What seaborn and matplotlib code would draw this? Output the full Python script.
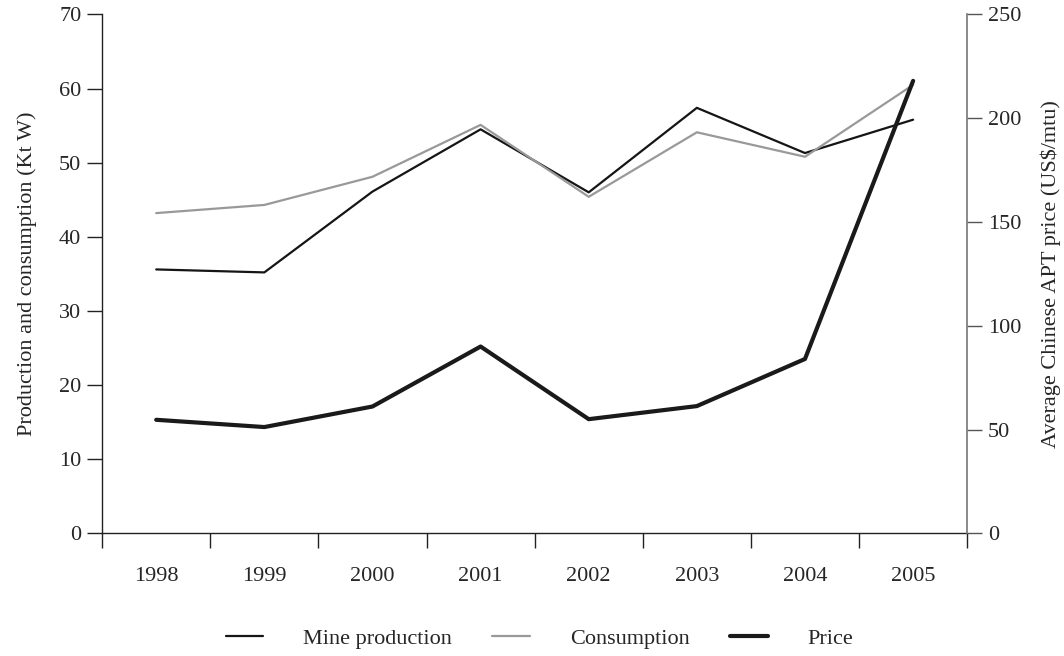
import numpy as np
import pandas as pd
import matplotlib.pyplot as plt
import seaborn as sns

years = ['1998', '1999', '2000', '2001', '2002', '2003', '2004', '2005']
mine_production = [35.6, 35.2, 46.1, 54.5, 46.0, 57.4, 51.3, 55.8]
consumption = [43.2, 44.3, 48.1, 55.1, 45.4, 54.1, 50.8, 60.5]
price = [54.7, 51.2, 61.1, 90.0, 55.0, 61.3, 84.0, 218.0]

df = pd.DataFrame({'Year': years, 'Mine production': mine_production,
                   'Consumption': consumption, 'Price': price})

sns.set_style('white')
plt.rcParams['font.family'] = ['Liberation Serif', 'DejaVu Serif']
plt.rcParams['font.size'] = 16

fig = plt.figure(figsize=(10.64, 6.56), dpi=100)
ax = fig.add_axes([0.096, 0.187, 0.813, 0.791])
ax2 = ax.twinx()

# left axis: production and consumption
sns.lineplot(data=df, x='Year', y='Mine production', ax=ax, color='#151515',
             linewidth=1.6, sort=False, label='Mine production', legend=False)
sns.lineplot(data=df, x='Year', y='Consumption', ax=ax, color='#999999',
             linewidth=1.6, sort=False, label='Consumption', legend=False)
# right axis: price
sns.lineplot(data=df, x='Year', y='Price', ax=ax2, color='#1a1a1a',
             linewidth=3.0, sort=False, label='Price', legend=False)

ax.set_xlim(-0.5, 7.5)
ax.set_ylim(0, 70)
ax2.set_ylim(0, 250)
ax.set_yticks(np.arange(0, 71, 10))
ax2.set_yticks(np.arange(0, 251, 50))

# ticks between categories, labels centered
ax.set_xticks(np.arange(-0.5, 8, 1))
ax.set_xticklabels([])
ax.set_xticks(np.arange(0, 8), minor=True)
ax.set_xticklabels(years, minor=True)
ax.tick_params(axis='x', which='major', direction='out', length=11, width=1.0, color='#222222', bottom=True)
ax.tick_params(axis='x', which='minor', length=0, pad=24, labelsize=16)
ax.tick_params(axis='y', direction='out', length=11, width=1.0, color='#222222', left=True, pad=4, labelsize=16)
ax2.tick_params(axis='y', direction='out', length=11, width=1.0, color='#555555', right=True, pad=4, labelsize=16)

for s in ['top', 'right']:
    ax.spines[s].set_visible(False)
for s in ['top', 'left', 'bottom']:
    ax2.spines[s].set_visible(False)
ax.spines['left'].set_color('#222222')
ax.spines['bottom'].set_color('#222222')
ax2.spines['right'].set_color('#777777')
ax.spines['left'].set_linewidth(1.0)
ax.spines['bottom'].set_linewidth(1.0)
ax2.spines['right'].set_linewidth(1.2)

ax.set_xlabel('')
ax.set_ylabel('Production and consumption (Kt W)', fontsize=16, labelpad=16)
ax2.set_ylabel('Average Chinese APT price (US$/mtu)', fontsize=16, labelpad=14)

handles = ax.get_lines()[:2] + ax2.get_lines()[:1]
fig.legend(handles, ['Mine production', 'Consumption', 'Price'], loc='center',
           bbox_to_anchor=(0.507, 0.027), ncol=3, frameon=False, fontsize=16,
           handlelength=1.7, handletextpad=1.8, columnspacing=1.8)

plt.savefig('out.png', dpi=100)
